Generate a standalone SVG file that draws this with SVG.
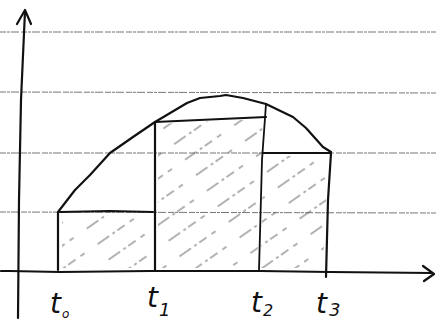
<svg xmlns="http://www.w3.org/2000/svg" width="436" height="322" viewBox="0 0 436 322">
<style>
.grid{stroke:#777;stroke-width:1;stroke-dasharray:6 1 3 1 8 2;fill:none}
.ink{stroke:#111;stroke-width:2.2;fill:none;stroke-linecap:round;stroke-linejoin:round}
.thin{stroke:#111;stroke-width:1.8;fill:none;stroke-linecap:round;stroke-linejoin:round}
.lbl{font-family:"DejaVu Sans","Liberation Sans",sans-serif;font-style:italic;fill:#111}
</style>
<defs>
<pattern id="hatch" patternUnits="userSpaceOnUse" width="60" height="19" patternTransform="rotate(-35)">
<line x1="0" y1="9" x2="60" y2="9" stroke="#555" stroke-width="0.9" stroke-dasharray="14 4 3 3 9 6 5 16"/>
</pattern>
</defs>
<g id="grid">
<line class="grid" x1="0" y1="32" x2="436" y2="32"/>
<line class="grid" x1="0" y1="92" x2="436" y2="93"/>
<line class="grid" x1="0" y1="153" x2="436" y2="153"/>
<line class="grid" x1="0" y1="212" x2="436" y2="213"/>
</g>
<g id="hatching">
<polygon points="62,215 151,215 151,268 62,268" fill="url(#hatch)"/>
<polygon points="158,124 263,119 257,268 158,268" fill="url(#hatch)"/>
<polygon points="263,156 328,156 323,268 261,268" fill="url(#hatch)"/>
</g>
<g id="axes">
<path class="ink" d="M18,318 L19,200 L21,100 L25,11"/>
<path class="ink" d="M17,24 L25,10 L31,24"/>
<path class="ink" d="M1,271 L10,271 L60,272 L150,271 L260,271 L330,272 L432,273"/>
<path class="ink" d="M423,266 L434,274 L424,281"/>
</g>
<g id="rects">
<path class="ink" d="M58,212 L58,270"/>
<path class="ink" d="M60,212 L110,211 L153,212"/>
<path class="ink" d="M155,122 L155,270"/>
<path class="ink" d="M155,122 L266,117"/>
<path class="thin" d="M266,104 L262,160 L259,270"/>
<path class="ink" d="M263,153 L331,153"/>
<path class="ink" d="M331,153 L328,200 L326,277"/>
</g>
<g id="curve">
<path class="ink" d="M58,212 L75,190 L90,175 L110,153 L133,137 L155,122 L187,103 L200,98 L220,96 L226,95 L243,98 L266,104 L293,117 L306,128 L323,147 L331,152"/>
</g>
<g id="labels">
<text class="lbl" x="50" y="313" font-size="28">t<tspan font-size="12" dx="1" dy="5">o</tspan></text>
<text class="lbl" x="147" y="307" font-size="28">t<tspan font-size="18" dx="1" dy="9">1</tspan></text>
<text class="lbl" x="251" y="312" font-size="28">t<tspan font-size="16" dx="1" dy="4">2</tspan></text>
<text class="lbl" x="316" y="313" font-size="28">t<tspan font-size="18" dx="2" dy="3">3</tspan></text>
</g>
</svg>
